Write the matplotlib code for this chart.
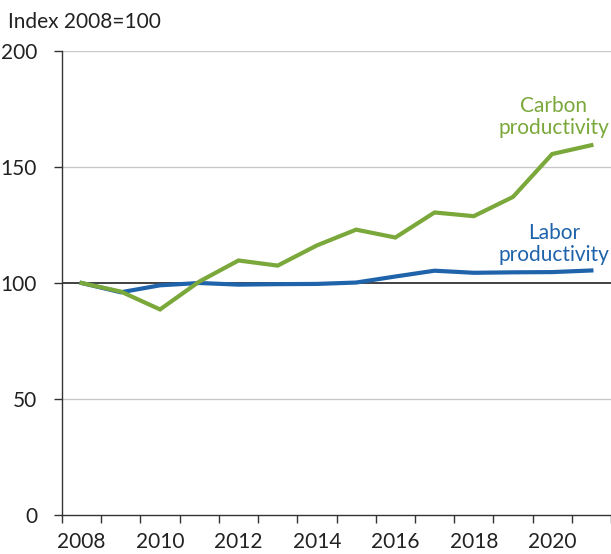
import matplotlib
matplotlib.use("Agg")
import matplotlib.pyplot as plt
import numpy as np

years = [2008, 2009, 2010, 2011, 2012, 2013, 2014, 2015, 2016, 2017, 2018, 2019, 2020, 2021]
carbon = [100, 96.3, 88.6, 100.6, 109.7, 107.5, 116.2, 123.0, 119.6, 130.4, 128.8, 137.1, 155.6, 159.4]
labor = [100, 96.0, 99.0, 100.0, 99.3, 99.5, 99.6, 100.2, 102.8, 105.3, 104.4, 104.6, 104.7, 105.4]
tick_labels = ["2008", "2010", "2012", "2014", "2016", "2018", "2020"]

green = "#7AA83A"
blue = "#1F63AB"
plt.rcParams['font.family'] = ['Lato', 'DejaVu Sans']
FS = 15

fig = plt.figure(figsize=(6.11, 5.54), dpi=100)
ax = fig.add_axes([62/611, 1-515/554, 1-62/611, (515-51)/554])

x = np.arange(len(years))
ax.set_xlim(-0.5, len(years) - 0.5)
ax.set_ylim(0, 200)

for v in [50, 150, 200]:
    ax.axhline(v, color="#c8c8c8", lw=1.0, zorder=1)
ax.axhline(100, color="#333333", lw=1.3, zorder=2)

ax.plot(x, labor, color=blue, lw=3.0, zorder=3, solid_joinstyle='miter')
ax.plot(x, carbon, color=green, lw=3.0, zorder=4, solid_joinstyle='miter')

ax.set_yticks([0, 50, 100, 150, 200])
ax.set_yticklabels(["0", "50", "100", "150", "200"])
ax.tick_params(axis='y', length=6, width=1, color="#333333", labelsize=FS, labelcolor="#222222", pad=12)

major = [years.index(int(t)) for t in tick_labels]
ax.set_xticks(major)
ax.set_xticklabels(tick_labels)
ax.set_xticks(np.arange(-0.5, len(years) + 0.5, 1.0), minor=True)
ax.tick_params(axis='x', which='major', length=0, labelsize=FS, labelcolor="#222222", pad=12)
ax.tick_params(axis='x', which='minor', length=6, width=1, color="#333333")

for s in ["top", "right"]:
    ax.spines[s].set_visible(False)
ax.spines["left"].set_color("#333333")
ax.spines["bottom"].set_color("#333333")
ax.spines["left"].set_linewidth(1.0)
ax.spines["bottom"].set_linewidth(1.0)

fig.text(8/611, 1-22/554, "Index 2008=100", fontsize=FS, color="#222222", va="center", ha="left")

ax.text(0.896, 0.858, "Carbon\nproductivity", transform=ax.transAxes, color=green,
        fontsize=FS, ha="center", va="center", linespacing=1.15)
ax.text(0.896, 0.584, "Labor\nproductivity", transform=ax.transAxes, color=blue,
        fontsize=FS, ha="center", va="center", linespacing=1.15)

fig.savefig("out.png", dpi=100)
